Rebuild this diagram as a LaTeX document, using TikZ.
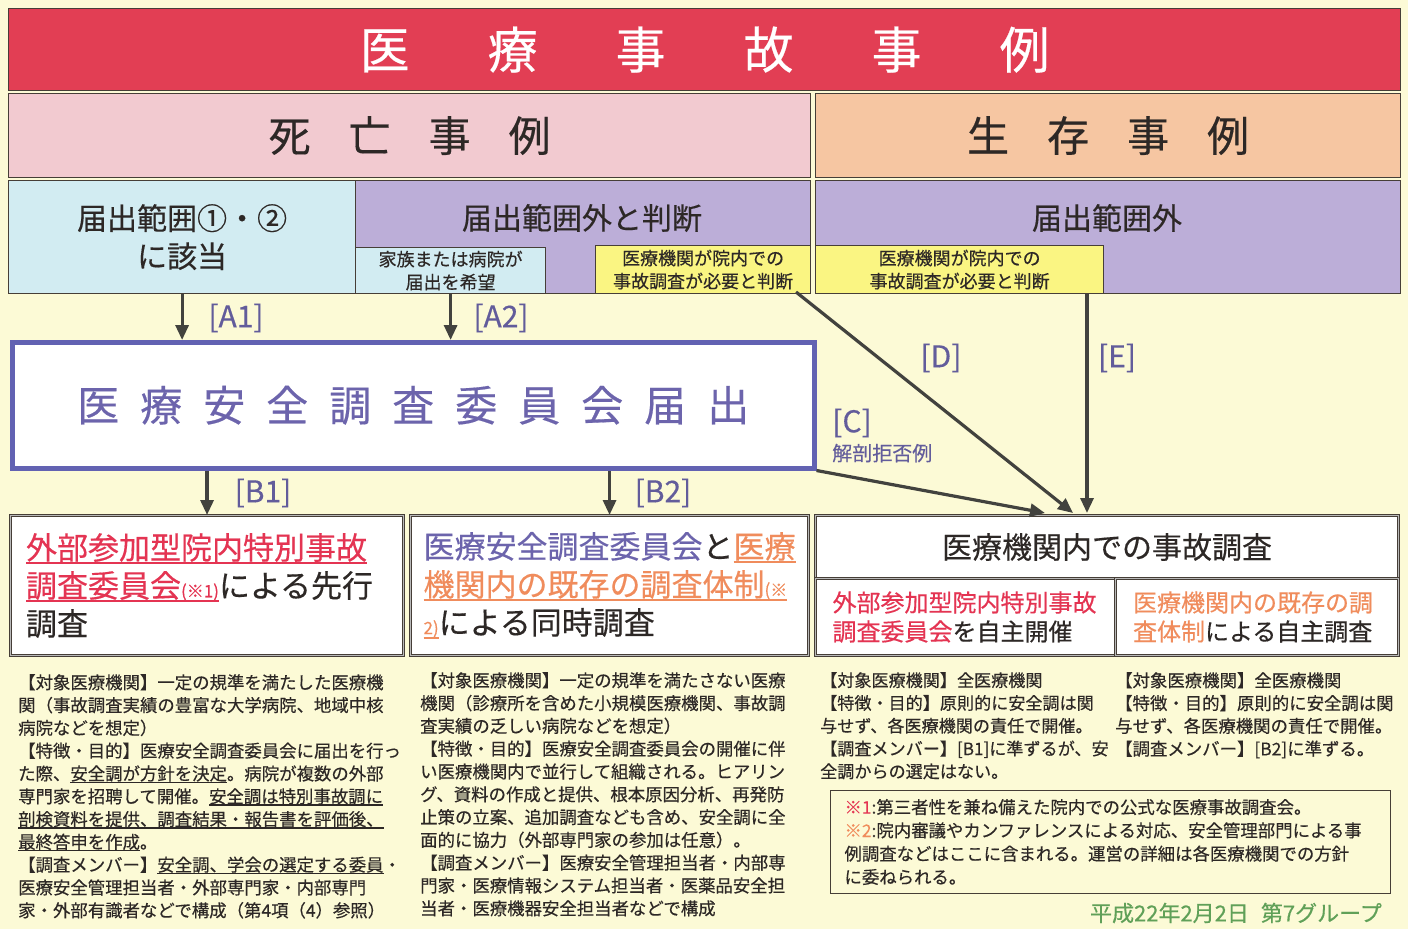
\documentclass[tikz,border=0pt]{standalone}
\usepackage{fontspec}
\setmainfont{Noto Sans CJK JP}[FakeBold=0.4]
\usetikzlibrary{positioning,arrows.meta}

\definecolor{paper}{RGB}{252,250,214}
\definecolor{edge}{RGB}{70,62,55}
\definecolor{ink}{RGB}{45,40,38}
\definecolor{titlered}{RGB}{226,62,84}
\definecolor{deathpink}{RGB}{242,202,208}
\definecolor{alivepeach}{RGB}{246,198,162}
\definecolor{scopeblue}{RGB}{210,236,242}
\definecolor{outpurple}{RGB}{188,174,216}
\definecolor{judgeyellow}{RGB}{250,245,130}
\definecolor{reportblue}{RGB}{98,98,178}
\definecolor{labelblue}{RGB}{98,92,155}
\definecolor{accred}{RGB}{228,52,82}
\definecolor{accorange}{RGB}{240,140,92}
\definecolor{accpurple}{RGB}{108,100,172}
\definecolor{arrowgray}{RGB}{66,66,62}
\definecolor{datagreen}{RGB}{96,160,88}

\newcommand{\fsz}[2]{\fontsize{#1}{#2}\selectfont}
\newcommand{\ulmark}[1]{\leavevmode\setbox0\hbox{#1}\rlap{\rule[-0.16em]{\wd0}{0.07em}}\box0}

\begin{document}
\begin{tikzpicture}[
    x=1pt, y=-1pt,
    every node/.style={inner sep=0pt, text=ink},
    box/.style={draw=edge, line width=1.2pt, anchor=north west},
    casebox/.style={draw=edge, double=gray!55, double distance=1.2pt, line width=1.1pt, anchor=north west, fill=white},
    flow/.style={draw=arrowgray, line width=3.2pt, -{Triangle[length=15pt,width=13pt]}},
    tag/.style={text=labelblue, font=\fsz{30}{30}},
    body/.style={anchor=north west, align=left, font=\fsz{17.4}{22.8}}
  ]
    \useasboundingbox (0,0) rectangle (1408,929);
    \fill[paper] (0,0) rectangle (1408,929);

    % Header bands
    \node (title) [box, fill=titlered, minimum width=1392pt, minimum height=82pt, text=white, font=\fsz{50}{50}] at (8,8)
      {医\hspace{78pt}療\hspace{78pt}事\hspace{78pt}故\hspace{78pt}事\hspace{78pt}例};
    \node (death) [box, fill=deathpink, minimum width=802pt, minimum height=84pt, font=\fsz{42}{42}] at (8,93)
      {死\hspace{38pt}亡\hspace{38pt}事\hspace{38pt}例};
    \node (alive) [box, fill=alivepeach, minimum width=585pt, minimum height=84pt, font=\fsz{42}{42}] at (815,93)
      {生\hspace{38pt}存\hspace{38pt}事\hspace{38pt}例};

    % Reporting scope
    \node (scope12) [box, fill=scopeblue, minimum width=347pt, minimum height=113pt, align=center, font=\fsz{30}{38}] at (8,180)
      {届出範囲①・②\\に該当};
    \node (outside1) [box, fill=outpurple, minimum width=455pt, minimum height=113pt] at (355,180) {};
    \node (outtext1) [font=\fsz{30}{30}] at (582,218) {届出範囲外と判断};
    \node (family) [box, fill=scopeblue, minimum width=190pt, minimum height=46pt, align=center, font=\fsz{18}{23}] at (355,247)
      {家族または病院が\\届出を希望};
    \node (judge1) [box, fill=judgeyellow, minimum width=215pt, minimum height=48pt, align=center, font=\fsz{18}{23}] at (595,245)
      {医療機関が院内での\\事故調査が必要と判断};
    \node (outside2) [box, fill=outpurple, minimum width=585pt, minimum height=113pt] at (815,180) {};
    \node (outtext2) [font=\fsz{30}{30}] at (1107,218) {届出範囲外};
    \node (judge2) [box, fill=judgeyellow, minimum width=288pt, minimum height=48pt, align=center, font=\fsz{18}{23}] at (815,245)
      {医療機関が院内での\\事故調査が必要と判断};

    % Report to the committee
    \node (report) [draw=reportblue, line width=4.5pt, fill=white, anchor=north west, minimum width=802pt, minimum height=126pt,
      text=accpurple, font=\fsz{42}{42}] at (10,340)
      {医\hspace{21pt}療\hspace{21pt}安\hspace{21pt}全\hspace{21pt}調\hspace{21pt}査\hspace{21pt}委\hspace{21pt}員\hspace{21pt}会\hspace{21pt}届\hspace{21pt}出};

    % Investigation types
    \node (box1) [casebox, minimum width=393pt, minimum height=140pt, text width=362pt, align=left, font=\fsz{31}{38}] at (10,515)
      {{\color{accred}\ulmark{外部参加型院内特別事故}}\\
       {\color{accred}\ulmark{調査委員会{\fsz{17}{17}(※1)}}}による先行\\
       調査};
    \node (box2) [casebox, minimum width=398pt, minimum height=140pt, text width=372pt, align=left, font=\fsz{31}{38}] at (410,515)
      {{\color{accpurple}医療安全調査委員会}と{\color{accorange}\ulmark{医療}}\\
       \leavevmode{\color{accorange}\ulmark{機関内の既存の調査体制{\fsz{17}{17}(※}}}\\
       \leavevmode{\color{accorange}\ulmark{\fsz{17}{17}2)}}による同時調査};
    \node (box3top) [casebox, minimum width=583pt, minimum height=63pt, font=\fsz{30}{30}] at (815,515)
      {医療機関内での事故調査};
    \node (box3l) [casebox, minimum width=300pt, minimum height=77pt, text width=266pt, align=left, font=\fsz{24}{29}] at (815,578)
      {{\color{accred}外部参加型院内特別事故}\\{\color{accred}調査委員会}を自主開催};
    \node (box3r) [casebox, minimum width=283pt, minimum height=77pt, text width=248pt, align=left, font=\fsz{24}{29}] at (1115,578)
      {{\color{accorange}医療機関内の既存の調}\\{\color{accorange}査体制}による自主調査};

    % Arrows
    \coordinate (ctip) at (1045,513);
    \coordinate (dtip) at (1073,513);
    \coordinate (etip) at (1087,513);
    \coordinate (dfoot) at (796,292);
    \draw[flow] (scope12.south) -- (scope12.south |- report.north);
    \draw[flow] (family.south) -- (family.south |- report.north);
    \draw[flow] (box1.north |- report.south) -- (box1.north);
    \draw[flow] (box2.north |- report.south) -- (box2.north);
    \draw[flow] (report.south east) -- (ctip);
    \draw[flow] (dfoot) -- (dtip);
    \draw[flow] (etip |- outside2.south) -- (etip);

    % Arrow tags
    \node (tagA1) [tag] at (236,318) {[A1]};
    \node (tagA2) [tag] at (501,318) {[A2]};
    \node (tagB1) [tag] at (263,493) {[B1]};
    \node (tagB2) [tag] at (663,493) {[B2]};
    \node (tagC) [tag] at (852,423) {[C]};
    \node (refuse) [below=6pt of tagC.south west, anchor=north west, text=labelblue, font=\fsz{20}{20}] {解剖拒否例};
    \node (tagD) [tag] at (941,358) {[D]};
    \node (tagE) [tag] at (1117,358) {[E]};

    % Descriptions
    \node (desc1) [body] at (18,674)
      {【対象医療機関】一定の規準を満たした医療機\\
       関（事故調査実績の豊富な大学病院、地域中核\\
       病院などを想定）\\
       【特徴・目的】医療安全調査委員会に届出を行っ\\
       た際、\ulmark{安全調が方針を決定}。病院が複数の外部\\
       専門家を招聘して開催。\ulmark{安全調は特別事故調に}\\
       \ulmark{剖検資料を提供、調査結果・報告書を評価後、}\\
       \ulmark{最終答申を作成}。\\
       【調査メンバー】\ulmark{安全調、学会の選定する委員}・\\
       医療安全管理担当者・外部専門家・内部専門\\
       家・外部有識者などで構成（第4項（4）参照）};
    \node (desc2) [body] at (420,672)
      {【対象医療機関】一定の規準を満たさない医療\\
       機関（診療所を含めた小規模医療機関、事故調\\
       査実績の乏しい病院などを想定）\\
       【特徴・目的】医療安全調査委員会の開催に伴\\
       い医療機関内で並行して組織される。ヒアリン\\
       グ、資料の作成と提供、根本原因分析、再発防\\
       止策の立案、追加調査なども含め、安全調に全\\
       面的に協力（外部専門家の参加は任意）。\\
       【調査メンバー】医療安全管理担当者・内部専\\
       門家・医療情報システム担当者・医薬品安全担\\
       当者・医療機器安全担当者などで構成};
    \node (desc3) [body, font=\fsz{17.1}{22.8}] at (820,672)
      {【対象医療機関】全医療機関\\
       【特徴・目的】原則的に安全調は関\\
       与せず、各医療機関の責任で開催。\\
       【調査メンバー】[B1]に準ずるが、安\\
       全調からの選定はない。};
    \node (desc4) [body, font=\fsz{17.4}{22.8}] at (1115,672)
      {【対象医療機関】全医療機関\\
       【特徴・目的】原則的に安全調は関\\
       与せず、各医療機関の責任で開催。\\
       【調査メンバー】[B2]に準ずる。};

    % Footnotes
    \node (notes) [draw=edge, line width=1pt, anchor=north west, minimum width=560pt, minimum height=103pt,
      text width=532pt, align=left, font=\fsz{17.4}{23.3}] at (830,790)
      {{\color{accred}※1}:第三者性を兼ね備えた院内での公式な医療事故調査会。\\
       {\color{accorange}※2}:院内審議やカンファレンスによる対応、安全管理部門による事\\
       例調査などはここに含まれる。運営の詳細は各医療機関での方針\\
       に委ねられる。};
    \node (date) [anchor=east, text=datagreen, font=\fsz{22}{22}] at (1382,913) {平成22年2月2日\hspace{12pt}第7グループ};
  \end{tikzpicture}
\end{document}
